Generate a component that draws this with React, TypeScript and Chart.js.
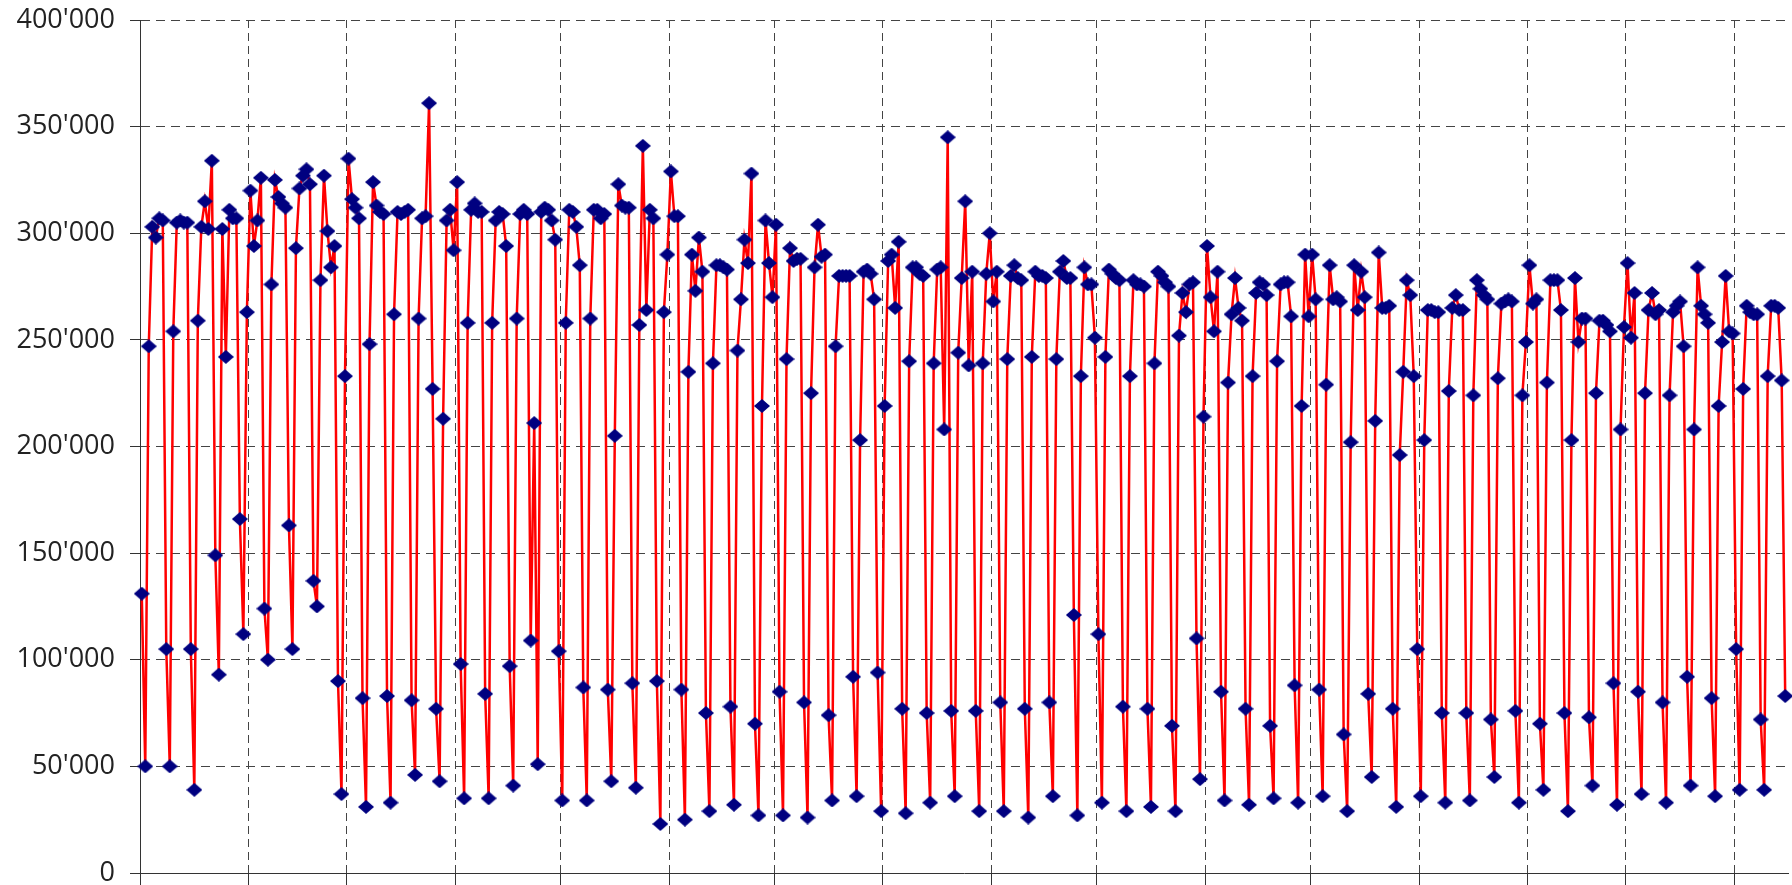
import React, { useEffect, useRef } from "react";
import { Chart, registerables } from "chart.js";

Chart.register(...registerables);

// Daily values (in thousands), 1 Jan 2022 – 15 Apr 2023
const UNIT = 1000;
const jan2022 = [131, 50, 247, 303, 298, 307, 306, 105, 50, 254, 305, 306, 305, 305, 105, 39, 259, 303, 315, 302, 334, 149, 93, 302, 242, 311, 307, 307, 166, 112, 263];
const feb2022 = [320, 294, 306, 326, 124, 100, 276, 325, 317, 314, 312, 163, 105, 293, 321, 327, 330, 323, 137, 125, 278, 327, 301, 284, 294, 90, 37, 233];
const mar2022 = [335, 316, 312, 307, 82, 31, 248, 324, 313, 310, 309, 83, 33, 262, 310, 309, 310, 311, 81, 46, 260, 307, 308, 361, 227, 77, 43, 213, 306, 311, 292];
const apr2022 = [324, 98, 35, 258, 311, 314, 310, 310, 84, 35, 258, 306, 310, 309, 294, 97, 41, 260, 309, 311, 309, 109, 211, 51, 310, 312, 311, 306, 297, 104];
const may2022 = [34, 258, 311, 310, 303, 285, 87, 34, 260, 311, 311, 307, 309, 86, 43, 205, 323, 313, 312, 312, 89, 40, 257, 341, 264, 311, 307, 90, 23, 263, 290];
const jun2022 = [329, 308, 308, 86, 25, 235, 290, 273, 298, 282, 75, 29, 239, 285, 285, 284, 283, 78, 32, 245, 269, 297, 286, 328, 70, 27, 219, 306, 286, 270];
const jul2022 = [304, 85, 27, 241, 293, 287, 288, 288, 80, 26, 225, 284, 304, 289, 290, 74, 34, 247, 280, 280, 280, 280, 92, 36, 203, 282, 283, 281, 269, 94, 29];
const aug2022 = [219, 287, 290, 265, 296, 77, 28, 240, 284, 284, 281, 280, 75, 33, 239, 283, 284, 208, 345, 76, 36, 244, 279, 315, 238, 282, 76, 29, 239, 281, 300];
const sep2022 = [268, 282, 80, 29, 241, 280, 285, 279, 278, 77, 26, 242, 282, 280, 280, 279, 80, 36, 241, 282, 287, 279, 279, 121, 27, 233, 284, 276, 276, 251];
const oct2022 = [112, 33, 242, 283, 281, 279, 278, 78, 29, 233, 278, 276, 276, 275, 77, 31, 239, 282, 280, 277, 275, 69, 29, 252, 272, 263, 276, 277, 110, 44, 214];
const nov2022 = [294, 270, 254, 282, 85, 34, 230, 262, 279, 265, 259, 77, 32, 233, 272, 277, 276, 271, 69, 35, 240, 276, 277, 277, 261, 88, 33, 219, 290, 261];
const dec2022 = [290, 269, 86, 36, 229, 285, 269, 270, 268, 65, 29, 202, 285, 264, 282, 270, 84, 45, 212, 291, 265, 265, 266, 77, 31, 196, 235, 278, 271, 233, 105];
const jan2023 = [36, 203, 264, 264, 263, 263, 75, 33, 226, 265, 271, 264, 264, 75, 34, 224, 278, 274, 271, 269, 72, 45, 232, 267, 268, 269, 268, 76, 33, 224, 249];
const feb2023 = [285, 267, 269, 70, 39, 230, 278, 278, 278, 264, 75, 29, 203, 279, 249, 260, 260, 73, 41, 225, 259, 259, 257, 254, 89, 32, 208, 256];
const mar2023 = [286, 251, 272, 85, 37, 225, 264, 272, 262, 264, 80, 33, 224, 263, 266, 268, 247, 92, 41, 208, 284, 266, 262, 258, 82, 36, 219, 249, 280, 254, 253];
const apr2023 = [105, 39, 227, 266, 263, 262, 262, 72, 39, 233, 266, 266, 265, 231, 83];

// Month boundaries as day offsets from 1 Jan 2022 (vertical grid lines)
const monthStarts = [0, 31, 59, 90, 120, 151, 181, 212, 243, 273, 304, 334, 365, 396, 424, 455];
const monthLabels = ["01.2022", "02.2022", "03.2022", "04.2022", "05.2022", "06.2022", "07.2022", "08.2022", "09.2022", "10.2022", "11.2022", "12.2022", "01.2023", "02.2023", "03.2023", "04.2023"];
const yTicks = [0, 50000, 100000, 150000, 200000, 250000, 300000, 350000, 400000];

const allDays = [
  ...jan2022, ...feb2022, ...mar2022, ...apr2022, ...may2022, ...jun2022,
  ...jul2022, ...aug2022, ...sep2022, ...oct2022, ...nov2022, ...dec2022,
  ...jan2023, ...feb2023, ...mar2023, ...apr2023,
];

function fmt(v: number): string {
  const s = String(Math.round(v));
  return s.replace(/\B(?=(\d{3})+(?!\d))/g, "'");
}

function makeDiamond(): HTMLCanvasElement {
  const c = document.createElement("canvas");
  c.width = 16;
  c.height = 14;
  const g = c.getContext("2d")!;
  g.fillStyle = "#000080";
  g.beginPath();
  g.moveTo(8, 0);
  g.lineTo(16, 7);
  g.lineTo(8, 14);
  g.lineTo(0, 7);
  g.closePath();
  g.fill();
  return c;
}

export default function App() {
  const ref = useRef<HTMLCanvasElement | null>(null);

  useEffect(() => {
    if (!ref.current) return;
    const data = allDays.map((v, i) => ({ x: i + 0.5, y: v * UNIT }));
    const diamond = makeDiamond();
    const chart = new Chart(ref.current, {
      type: "line",
      data: {
        datasets: [
          {
            data,
            borderColor: "#ff0000",
            borderWidth: 2.5,
            tension: 0,
            pointStyle: diamond as any,
            pointRadius: 8,
            pointBackgroundColor: "#000080",
            pointBorderColor: "#000080",
            clip: false as any,
          },
        ],
      },
      options: {
        animation: false,
        responsive: false,
        maintainAspectRatio: false,
        layout: { autoPadding: false, padding: { top: 20, right: 4, bottom: 0, left: 0 } },
        plugins: { legend: { display: false }, tooltip: { enabled: false } },
        scales: {
          x: {
            type: "linear",
            min: 0,
            max: 470.3,
            afterBuildTicks: (scale: any) => {
              scale.ticks = monthStarts.map((v) => ({ value: v }));
            },
            afterFit: (scale: any) => {
              scale.height = 12;
              scale.paddingLeft = 0;
              scale.paddingRight = 0;
              scale.paddingTop = 0;
              scale.paddingBottom = 0;
            },
            ticks: {
              display: false,
              callback: (v: any) => {
                const i = monthStarts.indexOf(Number(v));
                return i >= 0 ? monthLabels[i] : "";
              },
            },
            grid: {
              color: "#444",
              lineWidth: 1,
              drawTicks: true,
              tickLength: 12,
              tickColor: "#333",
            },
            border: { display: true, color: "#333", width: 1, dash: [8, 5] },
          },
          y: {
            min: 0,
            max: 400000,
            afterBuildTicks: (scale: any) => {
              scale.ticks = yTicks.map((v) => ({ value: v }));
            },
            afterFit: (scale: any) => {
              scale.width = 140;
              scale.paddingTop = 0;
              scale.paddingBottom = 0;
              scale.paddingLeft = 0;
              scale.paddingRight = 0;
            },
            ticks: {
              padding: 15,
              color: "#222",
              font: { family: "'Open Sans'", size: 27, weight: "400" as any },
              callback: (v: any) => fmt(Number(v)),
            },
            grid: {
              color: "#444",
              lineWidth: 1,
              drawTicks: true,
              tickLength: 10,
              tickColor: "#333",
            },
            border: { display: true, color: "#333", width: 1, dash: [9, 6] },
          },
        },
      },
    });
    return () => chart.destroy();
  }, []);

  return (
    <div style={{ position: "fixed", left: 0, top: 0, width: 1792, height: 885, background: "#fff" }}>
      <canvas ref={ref} width={1792} height={885} style={{ display: "block", width: 1792, height: 885 }} />
    </div>
  );
}
